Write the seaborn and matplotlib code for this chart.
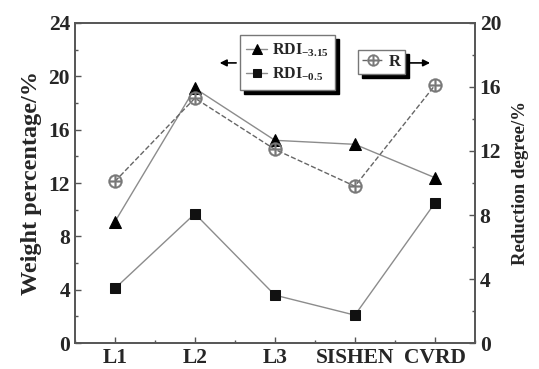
import numpy as np
import matplotlib
matplotlib.use("Agg")
import matplotlib.pyplot as plt
import seaborn as sns
from matplotlib.ticker import MultipleLocator

sns.set_style("ticks")
plt.rcParams['font.family'] = ['Liberation Serif', 'DejaVu Serif']
plt.rcParams['font.weight'] = 'bold'
plt.rcParams['mathtext.default'] = 'regular'

samples = ['L1', 'L2', 'L3', 'SISHEN', 'CVRD']
rdi_315 = [9.1, 19.1, 15.2, 14.9, 12.4]
rdi_05 = [4.1, 9.7, 3.6, 2.1, 10.5]
red_deg = [10.1, 15.3, 12.1, 9.8, 16.1]

pos = np.arange(1, len(samples) + 1)

fig = plt.figure(figsize=(5.39, 3.69), dpi=100)
ax = fig.add_axes([0.139, 0.070, 0.742, 0.868])
ax2 = ax.twinx()

line_grey = '#8c8c8c'
sns.lineplot(x=pos, y=rdi_315, ax=ax, color=line_grey, lw=1.0, marker='^',
             markersize=8, markerfacecolor='black', markeredgecolor='black',
             label='RDI$_{-3.15}$', legend=False)
sns.lineplot(x=pos, y=rdi_05, ax=ax, color=line_grey, lw=1.0, marker='s',
             markersize=7, markerfacecolor='#111111', markeredgecolor='#111111',
             label='RDI$_{-0.5}$', legend=False)
sns.lineplot(x=pos, y=red_deg, ax=ax2, color='#666666', lw=1.0, ls='--',
             marker=r'$\oplus$', markersize=10, markerfacecolor='#777777',
             markeredgecolor='#777777', markeredgewidth=0.3,
             label='R', legend=False)

ax.set_xlim(0.5, 5.5)
ax.set_ylim(0, 24)
ax2.set_ylim(0, 20)
ax.set_xticks(pos)
ax.set_xticklabels(samples)
ax.xaxis.set_minor_locator(MultipleLocator(0.5))
ax.yaxis.set_major_locator(MultipleLocator(4))
ax.yaxis.set_minor_locator(MultipleLocator(2))
ax2.yaxis.set_major_locator(MultipleLocator(4))
ax2.yaxis.set_minor_locator(MultipleLocator(2))

for a in (ax, ax2):
    a.tick_params(which='both', direction='in', labelsize=15.5, width=1, color='#555555')
    a.tick_params(which='major', length=4)
    a.tick_params(which='minor', length=2.5)
    for s in a.spines.values():
        s.set_color('#555555')
        s.set_linewidth(1.2)
ax.tick_params(top=False, which='both')
ax2.tick_params(top=False, which='both')

ax.set_ylabel('Weight percentage/%', fontsize=17.5, fontweight='bold', labelpad=5)
ax2.set_ylabel('Reduction degree/%', fontsize=13.5, fontweight='bold', labelpad=8)

# boxed legends with a hard black drop shadow
shadow = {'color': 'black', 'alpha': 1.0, 'ox': 3, 'oy': -3}
leg1 = ax.legend(loc='upper left', bbox_to_anchor=(0.4125, 0.9625), fontsize=11.5,
                 frameon=True, fancybox=False, shadow=shadow, handlelength=1.3,
                 handletextpad=0.3, borderpad=0.4, labelspacing=0.45, borderaxespad=0,
                 markerscale=0.85)
leg1.get_frame().set_edgecolor('#777777')
leg1.get_frame().set_linewidth(1.0)
ax.legend_ = None
ax.add_artist(leg1)

h2, lab2 = ax2.get_legend_handles_labels()
leg2 = ax2.legend(h2, lab2, loc='upper left', bbox_to_anchor=(0.7075, 0.916), fontsize=12,
                  frameon=True, fancybox=False, shadow=shadow, handlelength=1.3,
                  handletextpad=0.3, borderpad=0.25, borderaxespad=0, markerscale=0.85)
leg2.get_frame().set_edgecolor('#777777')
leg2.get_frame().set_linewidth(1.0)

ax2.annotate('', xy=(0.355, 0.875), xytext=(0.41, 0.875), xycoords='axes fraction',
             arrowprops=dict(arrowstyle='-|>', color='black', lw=1.2, mutation_scale=10))
ax2.annotate('', xy=(0.895, 0.875), xytext=(0.8225, 0.875), xycoords='axes fraction',
             arrowprops=dict(arrowstyle='-|>', color='black', lw=1.2, mutation_scale=10))

fig.savefig('out.png', dpi=100)
